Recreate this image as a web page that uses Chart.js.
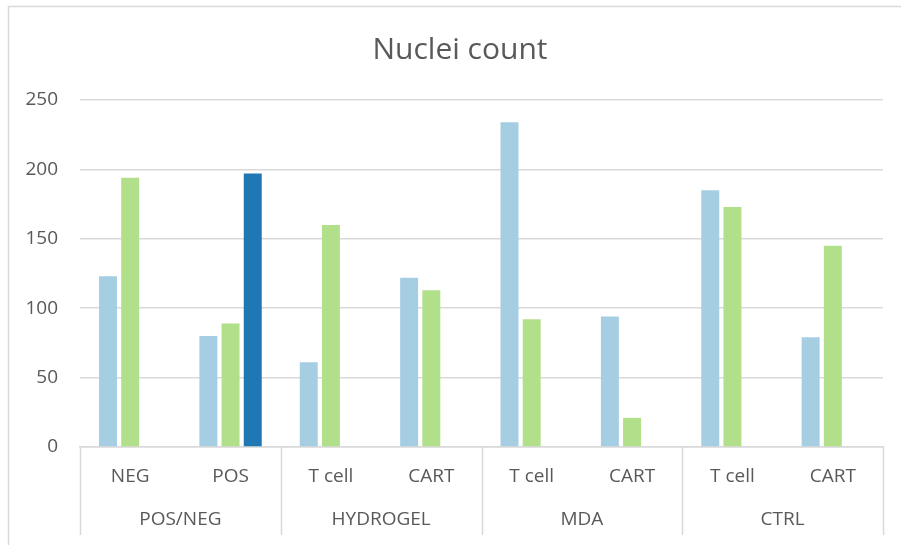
<!DOCTYPE html>
<html>
<head>
<meta charset="utf-8">
<script src="https://cdn.jsdelivr.net/npm/chart.js@4/dist/chart.umd.min.js"></script>
<style>
  html, body { margin: 0; padding: 0; background: #ffffff; overflow: hidden; }
  #wrap { width: 901px; height: 545px; position: relative; }
</style>
</head>
<body>
<div id="wrap"><canvas id="chart" width="901" height="545"></canvas></div>
<script>
// Category labels: inner row (conditions) and outer row (groups)
const subLabels = ['NEG', 'POS', 'T cell', 'CART', 'T cell', 'CART', 'T cell', 'CART'];
const groupLabels = ['POS/NEG', 'HYDROGEL', 'MDA', 'CTRL'];
const groupSizes = [2, 2, 2, 2];

// Nuclei counts per series
const series1 = [123, 80, 61, 122, 234, 94, 185, 79];
const series2 = [194, 89, 160, 113, 92, 21, 173, 145];
const series3 = [null, 197, null, null, null, null, null, null];

const yTicks = [0, 50, 100, 150, 200, 250];

const textColor = '#595959';
const lineColor = '#d9d9d9';
const fontFamily = "'Open Sans', 'Noto Sans', sans-serif";

// Outer frame, title and group separators
const decorations = {
  id: 'decorations',
  beforeDraw(chart) {
    const ctx = chart.ctx;
    ctx.save();
    ctx.strokeStyle = lineColor;
    ctx.lineWidth = 1.5;
    ctx.beginPath();
    ctx.moveTo(8.5, chart.height);
    ctx.lineTo(8.5, 6.5);
    ctx.lineTo(chart.width, 6.5);
    ctx.stroke();

    ctx.fillStyle = textColor;
    ctx.font = "30px " + fontFamily;
    ctx.textAlign = 'center';
    ctx.textBaseline = 'alphabetic';
    ctx.fillText('Nuclei count', 460, 59);
    ctx.restore();
  },
  afterDraw(chart) {
    const x = chart.scales.x;
    const x2 = chart.scales.x2;
    const ctx = chart.ctx;
    const n = subLabels.length;
    const step = (x.right - x.left) / n;
    ctx.save();
    ctx.strokeStyle = lineColor;
    ctx.lineWidth = 1.5;
    let idx = 0;
    const bounds = [0];
    groupSizes.forEach(s => { idx += s; bounds.push(idx); });
    bounds.forEach(b => {
      const px = Math.round(x.getPixelForValue(0) - step / 2 + b * step) + 0.5;
      ctx.beginPath();
      ctx.moveTo(px, x.top);
      ctx.lineTo(px, x2.bottom + 4);
      ctx.stroke();
    });
    ctx.restore();
  }
};

new Chart(document.getElementById('chart'), {
  type: 'bar',
  data: {
    labels: subLabels,
    datasets: [
      { label: 'Series 1', data: series1, backgroundColor: '#a6cee3' },
      { label: 'Series 2', data: series2, backgroundColor: '#b2df8a' },
      { label: 'Series 3', data: series3, backgroundColor: '#1f78b4' }
    ]
  },
  options: {
    responsive: false,
    animation: false,
    devicePixelRatio: 1,
    categoryPercentage: 0.663,
    barPercentage: 0.81,
    layout: { padding: { left: 18, right: 18, top: 100, bottom: 14 } },
    plugins: {
      legend: { display: false },
      title: { display: false },
      tooltip: { enabled: false }
    },
    scales: {
      x: {
        type: 'category',
        offset: true,
        afterFit(scale) { scale.height = 41; },
        grid: { display: false, drawTicks: false },
        border: { display: true, color: lineColor, width: 1.5 },
        ticks: {
          color: textColor,
          font: { family: fontFamily, size: 19 },
          padding: 18,
          maxRotation: 0,
          autoSkip: false
        }
      },
      x2: {
        type: 'category',
        position: 'bottom',
        labels: groupLabels,
        offset: true,
        afterFit(scale) { scale.height = 43; },
        grid: { display: false, drawTicks: false },
        border: { display: false },
        ticks: {
          color: textColor,
          font: { family: fontFamily, size: 19 },
          padding: 20,
          maxRotation: 0,
          autoSkip: false
        }
      },
      y: {
        min: 0,
        max: 250,
        afterBuildTicks(scale) {
          scale.ticks = yTicks.map(v => ({ value: v }));
        },
        afterFit(scale) { scale.width = 62; },
        grid: { color: lineColor, lineWidth: 1.5, drawTicks: false },
        border: { display: false },
        ticks: {
          color: textColor,
          font: { family: fontFamily, size: 19 },
          padding: 22
        }
      }
    }
  },
  plugins: [decorations]
});
</script>
</body>
</html>
